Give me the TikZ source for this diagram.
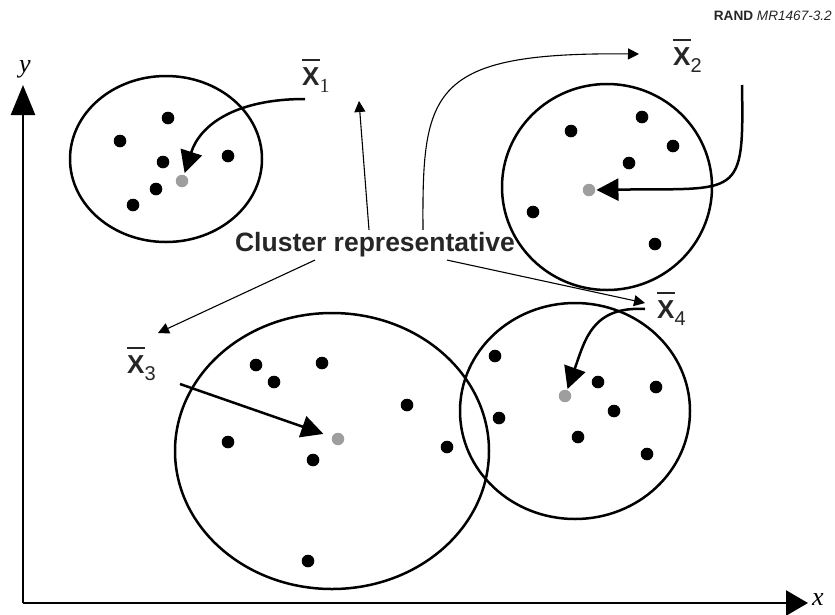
\documentclass[tikz,border=0pt]{standalone}
\usepackage{fontspec}
\setmainfont{Liberation Sans}
\newfontfamily\axisfont{Liberation Serif}
\usetikzlibrary{arrows.meta}

% centroid label: bold X with a bar and a subscript
\newcommand{\cmean}[1]{\makebox[0pt][l]{\rule[24.5pt]{18pt}{1.4pt}}{\bfseries X}\raisebox{-7pt}{\fontsize{20}{20}\selectfont #1}}

\begin{document}
\begin{tikzpicture}[x=1pt,y=-1pt,
        cluster/.style={line width=2.5pt},
        axisline/.style={line width=2.6pt},
        thickarrow/.style={line width=2.5pt,-{Triangle[length=22pt,width=22pt]}},
        thinarrow/.style={line width=1.1pt,-{Triangle[length=11pt,width=11pt]}},
        meanlabel/.style={anchor=base west,inner sep=0pt,text=black!85,font=\fontsize{26}{26}\selectfont},
        rep/.style={circle,fill=black!38,inner sep=0pt,minimum size=12.5pt}]
        \useasboundingbox (0,0) rectangle (835,614);

        % axes
        \coordinate (o) at (23,603);
        \draw[axisline,-{Triangle[length=30pt,width=24pt]}] (o) -- (23,85);
        \draw[axisline,-{Triangle[length=22pt,width=25pt]}] (o) -- (808,603);
        \node[anchor=base,inner sep=0pt,font=\axisfont\itshape\fontsize{26}{26}\selectfont] (ylab) at (25,72) {y};
        \node[anchor=base west,inner sep=0pt,font=\axisfont\itshape\fontsize{26}{26}\selectfont] (xlab) at (812,605) {x};

        \node[anchor=base east,inner sep=0pt,text=black!85,font=\fontsize{13.6}{14}\selectfont] (tag) at (832,20) {\textbf{RAND} \textit{MR1467-3.2}};

        % clusters
        \draw[cluster] (166,159) ellipse [x radius=96, y radius=83];
        \draw[cluster] (607,187) ellipse [x radius=105, y radius=103];
        \draw[cluster] (332,451) ellipse [x radius=157, y radius=138];
        \draw[cluster] (575,411) ellipse [x radius=115, y radius=108];

        \foreach \p in {(168,118),(120,141),(228,156),(163,162),(156,189),(133,205),
                        (571,131),(642,117),(673,146),(629,163),(533,212),(655,244),
                        (256,365),(322,363),(274,382),(407,405),(228,442),(313,460),(447,447),(308,561),
                        (495,356),(598,382),(656,387),(614,411),(499,418),(578,437),(647,454)}
        \fill \p circle[radius=6.3pt];

        \node[rep] (r1) at (182,181) {};
        \node[rep] (r2) at (589,190) {};
        \node[rep] (r3) at (338,439) {};
        \node[rep] (r4) at (565,396) {};

        % centroid labels
        \node[meanlabel] (x1) at (302,85) {\cmean{\axisfont 1}};
        \node[meanlabel] (x2) at (673,65) {\cmean{2}};
        \node[meanlabel] (x3) at (127,373) {\cmean{3}};
        \node[meanlabel] (x4) at (657,318) {\cmean{4}};

        \coordinate (s1) at (305,99);
        \coordinate (s2) at (742,85);
        \coordinate (s3) at (180,384);
        \coordinate (s4) at (645,309);

        \draw[thickarrow,shorten >=2pt] (s1) .. controls (235,99) and (200,125) .. (r1);
        \draw[thickarrow,shorten >=1pt] (s2) .. controls (744,200) and (740,188) .. (r2);
        \draw[thickarrow,shorten >=9pt] (s3) -- (r3);
        \draw[thickarrow,shorten >=1pt] (s4) .. controls (592,306) and (585,340) .. (r4);

        % cluster representative
        \node[inner sep=2.5pt,text=black!85,font=\bfseries\fontsize{26.5}{28}\selectfont] (cr) at (375,245) {Cluster representative};

        \coordinate (u1) at (359,101);
        \coordinate (u2) at (639,54);
        \coordinate (u3) at (158,333);
        \coordinate (u4) at (645,303);

        \draw[thinarrow] ([xshift=-6pt]cr.north) -- (u1);
        \draw[thinarrow] ([xshift=48pt]cr.north) .. controls (422,90) and (430,52) .. (u2);
        \draw[thinarrow] ([xshift=-60pt]cr.south) -- (u3);
        \draw[thinarrow] ([xshift=72pt]cr.south) -- (u4);

\end{tikzpicture}
\end{document}
